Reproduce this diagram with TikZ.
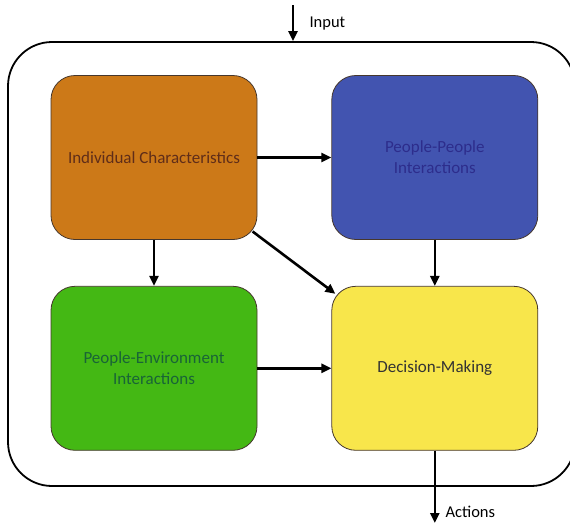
\documentclass[tikz,border=0pt]{standalone}
\usepackage{fontspec}
\setmainfont{Carlito}
\usetikzlibrary{arrows.meta,positioning}
\definecolor{boxorange}{RGB}{204,121,24}
\definecolor{boxblue}{RGB}{66,84,176}
\definecolor{boxgreen}{RGB}{68,184,20}
\definecolor{boxyellow}{RGB}{248,230,75}
\definecolor{txtorange}{RGB}{95,45,25}
\definecolor{txtblue}{RGB}{45,45,140}
\definecolor{txtgreen}{RGB}{25,100,55}
\definecolor{edge}{RGB}{70,55,45}
\tikzset{
  stage/.style={
    rectangle,
    rounded corners=24pt,
    draw=edge,
    line width=0.8pt,
    minimum width=206pt,
    minimum height=164pt,
    align=center,
    font=\fontsize{17}{21}\selectfont
  },
  link/.style={
    -{Triangle[length=10pt,width=9pt]},
    line width=2.6pt
  },
  frame/.style={
    rectangle,
    rounded corners=44pt,
    draw=black,
    line width=1.8pt,
    minimum width=567pt,
    minimum height=444pt
  },
  tag/.style={font=\fontsize{16.5}{19}\selectfont, anchor=west}
}

\begin{document}
\begin{tikzpicture}
  \useasboundingbox (0pt,0pt) rectangle (570pt,-525pt);
  \node[frame] (system) at (291.5pt,-264pt) {};
  \node[stage, fill=boxorange, text=txtorange] (indiv) at (154pt,-157.5pt)
    {Individual Characteristics};
  \node[stage, fill=boxblue, text=txtblue, right=74pt of indiv] (people)
    {People-People\\Interactions};
  \node[stage, fill=boxgreen, text=txtgreen, below=46pt of indiv] (environ)
    {People-Environment\\Interactions};
  \node[stage, fill=boxyellow, text=black!80, right=74pt of environ] (decide)
    {Decision-Making};
  % input and output
  \coordinate (in) at (293pt,-5pt);
  \coordinate (out) at (decide.south |- 0,-523pt);
  \draw[link] (in) -- (in |- system.north);
  \node[tag] (inlabel) at (306pt,-24pt) {Input};
  \draw[link] (decide.south) -- (out);
  \node[tag] (outlabel) at (442pt,-512pt) {Actions};
  % influences
  \draw[link] (indiv) -- (people);
  \draw[link] (indiv) -- (environ);
  \draw[link, shorten <=-6pt, shorten >=-5pt] (indiv) -- (decide);
  \draw[link] (people) -- (decide);
  \draw[link] (environ) -- (decide);
\end{tikzpicture}
\end{document}
